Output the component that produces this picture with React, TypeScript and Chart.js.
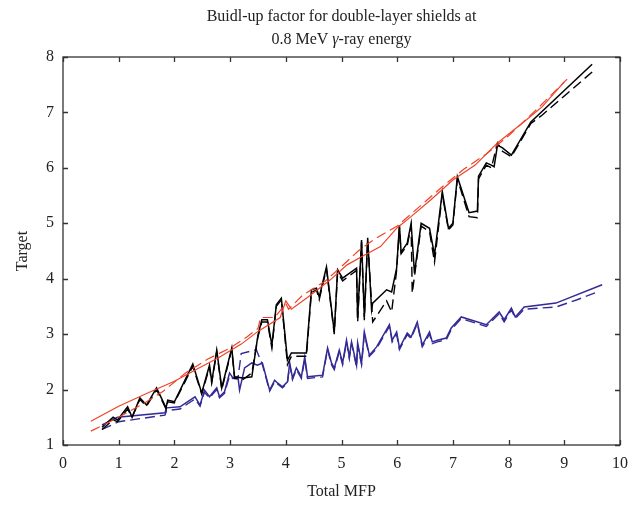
import React, { useEffect, useRef } from "react";
import { Chart, registerables } from "chart.js";

Chart.register(...registerables);

const titleLine1 = "Buidl-up factor for double-layer shields at";
const titleLine2a = "0.8 MeV ";
const titleLine2b = "γ";
const titleLine2c = "-ray energy";
const xAxisTitle = "Total MFP";
const yAxisTitle = "Target";

const xTicks = [0, 1, 2, 3, 4, 5, 6, 7, 8, 9, 10];
const yTicks = [1, 2, 3, 4, 5, 6, 7, 8];

const redSolidX = [0.5, 1.0, 1.5, 2.0, 2.5, 2.8, 3.2, 3.5, 3.9, 4.0, 4.1, 4.4, 4.8, 5.1, 5.4, 5.7, 6.0, 6.2, 6.6, 7.0, 7.4, 7.8, 8.3, 8.6, 9.0];
const redSolidY = [1.43, 1.7, 1.93, 2.15, 2.42, 2.58, 2.82, 3.05, 3.3, 3.6, 3.45, 3.67, 3.98, 4.25, 4.42, 4.58, 4.92, 5.08, 5.42, 5.78, 6.05, 6.45, 6.85, 7.1, 7.55];

const redDashX = [0.5, 1.0, 1.5, 1.8, 2.2, 2.6, 3.0, 3.3, 3.5, 3.55, 3.8, 4.0, 4.05, 4.3, 4.7, 5.0, 5.3, 5.6, 6.0, 6.4, 6.8, 7.2, 7.6, 8.0, 8.5, 9.05];
const redDashY = [1.25, 1.5, 1.78, 1.97, 2.3, 2.55, 2.75, 2.95, 3.1, 3.3, 3.3, 3.55, 3.45, 3.7, 3.95, 4.22, 4.5, 4.72, 4.95, 5.3, 5.65, 5.98, 6.25, 6.58, 7.05, 7.6];

const blackSolidX = [0.7, 0.9, 0.98, 1.16, 1.24, 1.38, 1.5, 1.68, 1.85, 1.88, 2.0, 2.33, 2.49, 2.63, 2.67, 2.76, 2.85, 3.03, 3.08, 3.23, 3.39, 3.5, 3.57, 3.67, 3.75, 3.83, 3.92, 4.03, 4.1, 4.37, 4.46, 4.55, 4.6, 4.73, 4.87, 4.93, 5.02, 5.27, 5.29, 5.36, 5.41, 5.47, 5.54, 5.56, 5.81, 5.9, 5.99, 6.04, 6.07, 6.18, 6.25, 6.31, 6.43, 6.58, 6.67, 6.81, 6.92, 7.0, 7.08, 7.29, 7.44, 7.46, 7.6, 7.69, 7.74, 7.8, 7.89, 8.05, 8.4, 9.5];
const blackSolidY = [1.32, 1.5, 1.45, 1.69, 1.5, 1.85, 1.72, 2.03, 1.67, 1.81, 1.78, 2.46, 1.94, 2.44, 2.14, 2.71, 2.03, 2.75, 2.23, 2.21, 2.23, 2.98, 3.26, 3.26, 2.8, 3.53, 3.65, 2.53, 2.66, 2.66, 3.8, 3.83, 3.67, 4.21, 3.04, 4.16, 4.01, 4.19, 3.29, 4.7, 3.31, 4.74, 3.44, 3.56, 3.8, 3.76, 4.19, 4.97, 4.48, 4.64, 5.0, 4.1, 5.0, 4.91, 4.43, 5.57, 4.91, 5.0, 5.84, 5.19, 5.22, 5.85, 6.09, 6.05, 6.02, 6.41, 6.36, 6.23, 6.83, 7.87];

const blackDashX = [0.7, 0.9, 0.98, 1.16, 1.24, 1.38, 1.5, 1.68, 1.85, 1.88, 2.0, 2.33, 2.49, 2.63, 2.67, 2.76, 2.85, 3.03, 3.08, 3.23, 3.39, 3.5, 3.57, 3.67, 3.75, 3.83, 3.92, 4.03, 4.1, 4.37, 4.46, 4.55, 4.6, 4.73, 4.87, 4.93, 5.02, 5.27, 5.29, 5.36, 5.41, 5.47, 5.56, 5.81, 5.9, 5.99, 6.04, 6.07, 6.18, 6.25, 6.27, 6.43, 6.58, 6.67, 6.81, 6.92, 7.0, 7.08, 7.29, 7.44, 7.46, 7.6, 7.69, 7.8, 7.89, 8.05, 8.4, 8.6, 9.5];
const blackDashY = [1.28, 1.45, 1.42, 1.65, 1.5, 1.82, 1.7, 2.0, 1.65, 1.78, 1.76, 2.42, 1.92, 2.4, 2.12, 2.68, 2.0, 2.72, 2.2, 2.18, 2.3, 2.95, 3.22, 3.22, 2.75, 3.5, 3.62, 2.45, 2.6, 2.6, 3.75, 3.8, 3.62, 4.18, 3.0, 4.12, 3.96, 4.15, 3.22, 4.66, 3.25, 4.7, 3.22, 3.6, 3.4, 4.15, 4.93, 4.45, 4.6, 4.95, 3.74, 4.95, 4.85, 4.3, 5.52, 4.88, 4.97, 5.8, 5.12, 5.1, 5.8, 6.05, 6.0, 6.45, 6.3, 6.2, 6.8, 6.95, 7.73];

const blueSolidX = [0.7, 0.98, 1.83, 1.86, 2.1, 2.37, 2.46, 2.54, 2.63, 2.76, 2.81, 2.9, 2.99, 3.05, 3.14, 3.17, 3.26, 3.39, 3.49, 3.58, 3.71, 3.8, 3.85, 3.94, 4.03, 4.07, 4.12, 4.19, 4.28, 4.34, 4.39, 4.66, 4.75, 4.82, 4.87, 4.96, 5.02, 5.09, 5.14, 5.18, 5.27, 5.29, 5.36, 5.41, 5.5, 5.63, 5.86, 5.91, 5.99, 6.04, 6.18, 6.25, 6.36, 6.45, 6.58, 6.63, 6.72, 6.88, 6.97, 7.15, 7.6, 7.83, 7.92, 8.05, 8.12, 8.28, 8.85, 9.68];
const blueSolidY = [1.36, 1.5, 1.58, 1.67, 1.69, 1.87, 1.72, 1.99, 1.87, 2.03, 1.87, 1.96, 2.3, 2.21, 2.23, 1.99, 2.39, 2.48, 2.44, 2.48, 1.99, 2.17, 2.12, 2.05, 2.14, 2.48, 2.21, 2.39, 2.23, 2.59, 2.23, 2.26, 2.75, 2.48, 2.39, 2.71, 2.48, 2.89, 2.59, 2.86, 2.44, 2.84, 2.48, 3.04, 2.62, 2.77, 3.17, 2.89, 3.04, 2.75, 3.02, 2.95, 3.22, 2.8, 3.04, 2.86, 2.89, 2.93, 3.11, 3.31, 3.17, 3.4, 3.26, 3.47, 3.31, 3.49, 3.56, 3.89];

const blueDashX = [0.7, 1.0, 1.83, 1.86, 2.1, 2.37, 2.46, 2.54, 2.63, 2.76, 2.81, 2.9, 2.99, 3.05, 3.14, 3.2, 3.47, 3.58, 3.71, 3.8, 3.85, 3.94, 4.03, 4.07, 4.12, 4.19, 4.28, 4.34, 4.39, 4.66, 4.75, 4.82, 4.87, 4.96, 5.02, 5.09, 5.14, 5.18, 5.27, 5.29, 5.36, 5.41, 5.5, 5.63, 5.86, 5.91, 5.99, 6.04, 6.18, 6.25, 6.36, 6.45, 6.58, 6.63, 6.72, 6.88, 6.97, 7.15, 7.6, 7.83, 7.92, 8.05, 8.12, 8.28, 8.85, 9.23, 9.59];
const blueDashY = [1.28, 1.42, 1.54, 1.62, 1.65, 1.83, 1.7, 1.95, 1.85, 2.0, 1.85, 1.93, 2.25, 2.2, 2.2, 2.65, 2.72, 2.45, 1.97, 2.14, 2.1, 2.03, 2.12, 2.45, 2.18, 2.36, 2.2, 2.55, 2.2, 2.23, 2.72, 2.45, 2.36, 2.68, 2.45, 2.86, 2.56, 2.83, 2.41, 2.8, 2.45, 3.0, 2.6, 2.74, 3.14, 2.86, 3.0, 2.72, 2.99, 2.92, 3.19, 2.77, 3.0, 2.83, 2.86, 2.9, 3.08, 3.28, 3.14, 3.37, 3.22, 3.44, 3.28, 3.45, 3.49, 3.62, 3.76];

const RED = "rgb(240, 66, 40)";
const BLACK = "rgb(0, 0, 0)";
const BLUE = "rgb(52, 42, 150)";
const FONT = "'Liberation Serif', 'DejaVu Serif', serif";

function pts(xs: number[], ys: number[]) {
  return xs.map((x, i) => ({ x, y: ys[i] }));
}

const framePlugin = {
  id: "frame",
  afterDraw(chart: any) {
    const { ctx, chartArea } = chart;
    const { left, right, top, bottom } = chartArea;
    const xs = chart.scales.x;
    const ys = chart.scales.y;
    ctx.save();
    ctx.strokeStyle = "#333";
    ctx.lineWidth = 1.3;
    ctx.strokeRect(left, top, right - left, bottom - top);
    const tl = 5;
    ctx.beginPath();
    xTicks.forEach((v) => {
      const p = Math.round(xs.getPixelForValue(v)) + 0.5;
      ctx.moveTo(p, bottom);
      ctx.lineTo(p, bottom - tl);
      ctx.moveTo(p, top);
      ctx.lineTo(p, top + tl);
    });
    yTicks.forEach((v) => {
      const p = Math.round(ys.getPixelForValue(v)) + 0.5;
      ctx.moveTo(left, p);
      ctx.lineTo(left + tl, p);
      ctx.moveTo(right, p);
      ctx.lineTo(right - tl, p);
    });
    ctx.stroke();

    // title
    const cx = (left + right) / 2;
    ctx.fillStyle = "#222";
    ctx.textBaseline = "middle";
    ctx.textAlign = "center";
    ctx.font = `16px ${FONT}`;
    ctx.fillText(titleLine1, cx, 17);
    const fN = `16px ${FONT}`;
    const fI = `italic 16px ${FONT}`;
    ctx.font = fN;
    const wa = ctx.measureText(titleLine2a).width;
    const wc = ctx.measureText(titleLine2c).width;
    ctx.font = fI;
    const wb = ctx.measureText(titleLine2b).width;
    const total = wa + wb + wc;
    const x0 = cx - total / 2;
    ctx.textAlign = "left";
    ctx.font = fN;
    ctx.fillText(titleLine2a, x0, 40);
    ctx.font = fI;
    ctx.fillText(titleLine2b, x0 + wa, 40);
    ctx.font = fN;
    ctx.fillText(titleLine2c, x0 + wa + wb, 40);
    ctx.restore();
  },
};

export default function App() {
  const ref = useRef<HTMLCanvasElement | null>(null);
  useEffect(() => {
    document.body.style.margin = "0";
    const canvas = ref.current;
    if (!canvas) return;
    const mk = (label: string, xs: number[], ys: number[], color: string, dash: number[], w: number) => ({
      label,
      data: pts(xs, ys),
      borderColor: color,
      backgroundColor: color,
      borderWidth: w,
      borderDash: dash,
      pointRadius: 0,
      showLine: true,
      fill: false,
      tension: 0,
    });
    const chart = new Chart(canvas, {
      type: "scatter",
      data: {
        datasets: [
          mk("Red target", redSolidX, redSolidY, RED, [], 1.2),
          mk("Red output", redDashX, redDashY, RED, [10, 5], 1.2),
          mk("Black target", blackSolidX, blackSolidY, BLACK, [], 1.5),
          mk("Black output", blackDashX, blackDashY, BLACK, [10, 5], 1.4),
          mk("Blue target", blueSolidX, blueSolidY, BLUE, [], 1.5),
          mk("Blue output", blueDashX, blueDashY, BLUE, [10, 5], 1.4),
        ],
      },
      options: {
        animation: false,
        responsive: false,
        devicePixelRatio: 1,
        layout: { padding: { top: 57, right: 17, left: 0, bottom: 0 } },
        plugins: { legend: { display: false }, tooltip: { enabled: false }, title: { display: false } },
        scales: {
          x: {
            type: "linear",
            min: 0,
            max: 10,
            afterFit: (s: any) => { s.height = 63; },
            afterBuildTicks: (s: any) => { s.ticks = xTicks.map((v) => ({ value: v })); },
            grid: { display: false, drawTicks: false },
            border: { display: false },
            ticks: { color: "#222", font: { family: FONT, size: 16 }, padding: 9, maxRotation: 0 },
            title: { display: true, text: xAxisTitle, color: "#222", font: { family: FONT, size: 16 }, padding: { top: 2, bottom: 7 } },
          },
          y: {
            type: "linear",
            min: 1,
            max: 8,
            afterFit: (s: any) => { s.width = 63; },
            afterBuildTicks: (s: any) => { s.ticks = yTicks.map((v) => ({ value: v })); },
            grid: { display: false, drawTicks: false },
            border: { display: false },
            ticks: { color: "#222", font: { family: FONT, size: 16 }, padding: 9 },
            title: { display: true, text: yAxisTitle, color: "#222", font: { family: FONT, size: 16 }, padding: { top: 13, bottom: 0 } },
          },
        },
      },
      plugins: [framePlugin],
    } as any);
    return () => chart.destroy();
  }, []);
  return (
    <div style={{ width: 637, height: 508, background: "#fff" }}>
      <canvas ref={ref} width={637} height={508} style={{ display: "block" }} />
    </div>
  );
}
